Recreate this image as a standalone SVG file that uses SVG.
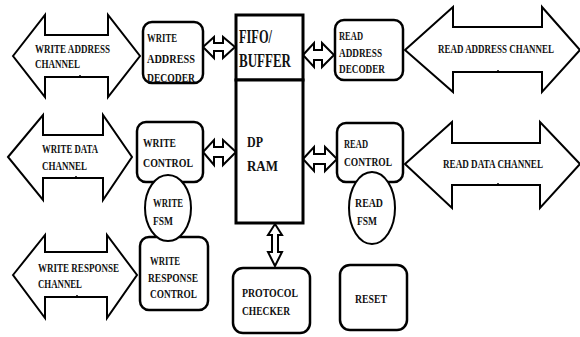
<svg xmlns="http://www.w3.org/2000/svg" width="580" height="337" viewBox="0 0 580 337">
<style>
.big{fill:#fff;stroke:#000;stroke-width:2;stroke-linejoin:miter}
.box{fill:#fff;stroke:#000;stroke-width:2.5}
.sm{fill:#fff;stroke:#000;stroke-width:2}
.ell{fill:#fff;stroke:#000;stroke-width:2}
text{font-family:"Liberation Serif","Times New Roman",serif;font-weight:bold;fill:#111;font-size:12px}
.lg{font-size:19px}
.md{font-size:15px}
</style>
<rect width="580" height="337" fill="#fff"/>
<g id="connectors">
  <polygon class="sm" points="203,47 214,37 214,43 223,43 223,37 235,47 223,58 223,51 214,51 214,58"/>
  <polygon class="sm" points="303,55 314,43 314,50 322,50 322,43 334,55 322,67 322,60 314,60 314,67"/>
  <polygon class="sm" points="203,152 214,140 214,147 223,147 223,140 236,152 223,165 223,157 214,157 214,165"/>
  <polygon class="sm" points="303,159 314,147 314,154 325,154 325,147 337,159 325,171 325,164 314,164 314,171"/>
  <polygon class="sm" points="275,224 282,235 278,235 278,252 282,252 275,266 268,252 272,252 272,235 268,235"/>
</g>
<g id="write-address-channel">
  <polygon class="big" points="13,56 45,15 45,35 108,35 108,15 140,56 108,97 108,77 45,77 45,97"/>
  <line x1="80" y1="75" x2="80" y2="78" stroke="#000" stroke-width="1.5"/>
  <text x="35" y="53" textLength="75" lengthAdjust="spacingAndGlyphs">WRITE ADDRESS</text>
  <text x="35" y="68" textLength="45" lengthAdjust="spacingAndGlyphs">CHANNEL</text>
</g>
<g id="write-address-decoder">
  <rect class="box" x="143" y="22" width="60" height="61" rx="9"/>
  <text x="147" y="42" textLength="30" lengthAdjust="spacingAndGlyphs">WRITE</text>
  <text x="147" y="63" textLength="48" lengthAdjust="spacingAndGlyphs">ADDRESS</text>
  <text x="147" y="82" textLength="48" lengthAdjust="spacingAndGlyphs">DECODER</text>
</g>
<g id="fifo-buffer">
  <rect x="236" y="15" width="67" height="65" fill="#fff" stroke="#000" stroke-width="3"/>
  <text class="lg" x="239" y="43" textLength="33" lengthAdjust="spacingAndGlyphs">FIFO/</text>
  <text class="lg" x="239" y="67" textLength="52" lengthAdjust="spacingAndGlyphs">BUFFER</text>
</g>
<g id="dp-ram">
  <rect x="236" y="80" width="67" height="143" fill="#fff" stroke="#000" stroke-width="3"/>
  <text class="md" x="247" y="147" textLength="16" lengthAdjust="spacingAndGlyphs">DP</text>
  <text class="md" x="247" y="171" textLength="31" lengthAdjust="spacingAndGlyphs">RAM</text>
</g>
<g id="read-address-decoder">
  <rect class="box" x="335" y="20" width="68" height="60" rx="9"/>
  <text x="339" y="40" textLength="24" lengthAdjust="spacingAndGlyphs">READ</text>
  <text x="339" y="57" textLength="43" lengthAdjust="spacingAndGlyphs">ADDRESS</text>
  <text x="339" y="73" textLength="46" lengthAdjust="spacingAndGlyphs">DECODER</text>
</g>
<g id="read-address-channel">
  <polygon class="big" points="405,50 453,7 453,27 542,27 542,7 580,50 542,92 542,72 453,72 453,92"/>
  <line x1="498" y1="70" x2="498" y2="73" stroke="#000" stroke-width="1.5"/>
  <text x="438" y="53" style="font-size:13px" textLength="116" lengthAdjust="spacingAndGlyphs">READ ADDRESS CHANNEL</text>
</g>
<g id="write-data-channel">
  <polygon class="big" points="8,157 43,115 43,135 103,135 103,115 132,157 103,200 103,178 43,178 43,200"/>
  <line x1="76" y1="176" x2="76" y2="179" stroke="#000" stroke-width="1.5"/>
  <text x="42" y="153" textLength="56" lengthAdjust="spacingAndGlyphs">WRITE DATA</text>
  <text x="42" y="170" textLength="45" lengthAdjust="spacingAndGlyphs">CHANNEL</text>
</g>
<g id="write-control">
  <rect class="box" x="137" y="122" width="66" height="60" rx="9"/>
  <text x="143" y="147" textLength="33" lengthAdjust="spacingAndGlyphs">WRITE</text>
  <text x="143" y="167" textLength="50" lengthAdjust="spacingAndGlyphs">CONTROL</text>
</g>
<g id="read-control">
  <rect class="box" x="337" y="123" width="66" height="59" rx="9"/>
  <text x="344" y="148" textLength="24" lengthAdjust="spacingAndGlyphs">READ</text>
  <text x="344" y="166" textLength="48" lengthAdjust="spacingAndGlyphs">CONTROL</text>
</g>
<g id="read-fsm">
  <ellipse class="ell" cx="372" cy="208" rx="23" ry="36"/>
  <text x="355" y="207" textLength="28" lengthAdjust="spacingAndGlyphs">READ</text>
  <text x="357" y="225" textLength="20" lengthAdjust="spacingAndGlyphs">FSM</text>
</g>
<g id="read-data-channel">
  <polygon class="big" points="405,164 452,122 452,143 540,143 540,122 580,164 540,208 540,185 452,185 452,208"/>
  <line x1="498" y1="183" x2="498" y2="186" stroke="#000" stroke-width="1.5"/>
  <text x="443" y="168" textLength="100" lengthAdjust="spacingAndGlyphs">READ DATA CHANNEL</text>
</g>
<g id="write-response-channel">
  <polygon class="big" points="13,275 45,235 45,252 107,252 107,235 137,275 107,318 107,297 45,297 45,318"/>
  <line x1="77" y1="295" x2="77" y2="298" stroke="#000" stroke-width="1.5"/>
  <text x="38" y="272" textLength="81" lengthAdjust="spacingAndGlyphs">WRITE RESPONSE</text>
  <text x="38" y="288" textLength="44" lengthAdjust="spacingAndGlyphs">CHANNEL</text>
</g>
<g id="write-response-control">
  <rect class="box" x="140" y="237" width="68" height="73" rx="9"/>
  <text x="150" y="265" textLength="30" lengthAdjust="spacingAndGlyphs">WRITE</text>
  <text x="148" y="282" textLength="50" lengthAdjust="spacingAndGlyphs">RESPONSE</text>
  <text x="150" y="298" textLength="47" lengthAdjust="spacingAndGlyphs">CONTROL</text>
</g>
<g id="write-fsm">
  <ellipse class="ell" cx="168" cy="208" rx="23" ry="33"/>
  <text x="153" y="207" textLength="30" lengthAdjust="spacingAndGlyphs">WRITE</text>
  <text x="153" y="225" textLength="20" lengthAdjust="spacingAndGlyphs">FSM</text>
</g>
<g id="protocol-checker">
  <rect class="box" x="233" y="268" width="77" height="65" rx="10"/>
  <text x="242" y="297" textLength="56" lengthAdjust="spacingAndGlyphs">PROTOCOL</text>
  <text x="242" y="315" textLength="48" lengthAdjust="spacingAndGlyphs">CHECKER</text>
</g>
<g id="reset">
  <rect class="box" x="340" y="265" width="67" height="65" rx="10"/>
  <text x="355" y="303" textLength="32" lengthAdjust="spacingAndGlyphs">RESET</text>
</g>
</svg>
